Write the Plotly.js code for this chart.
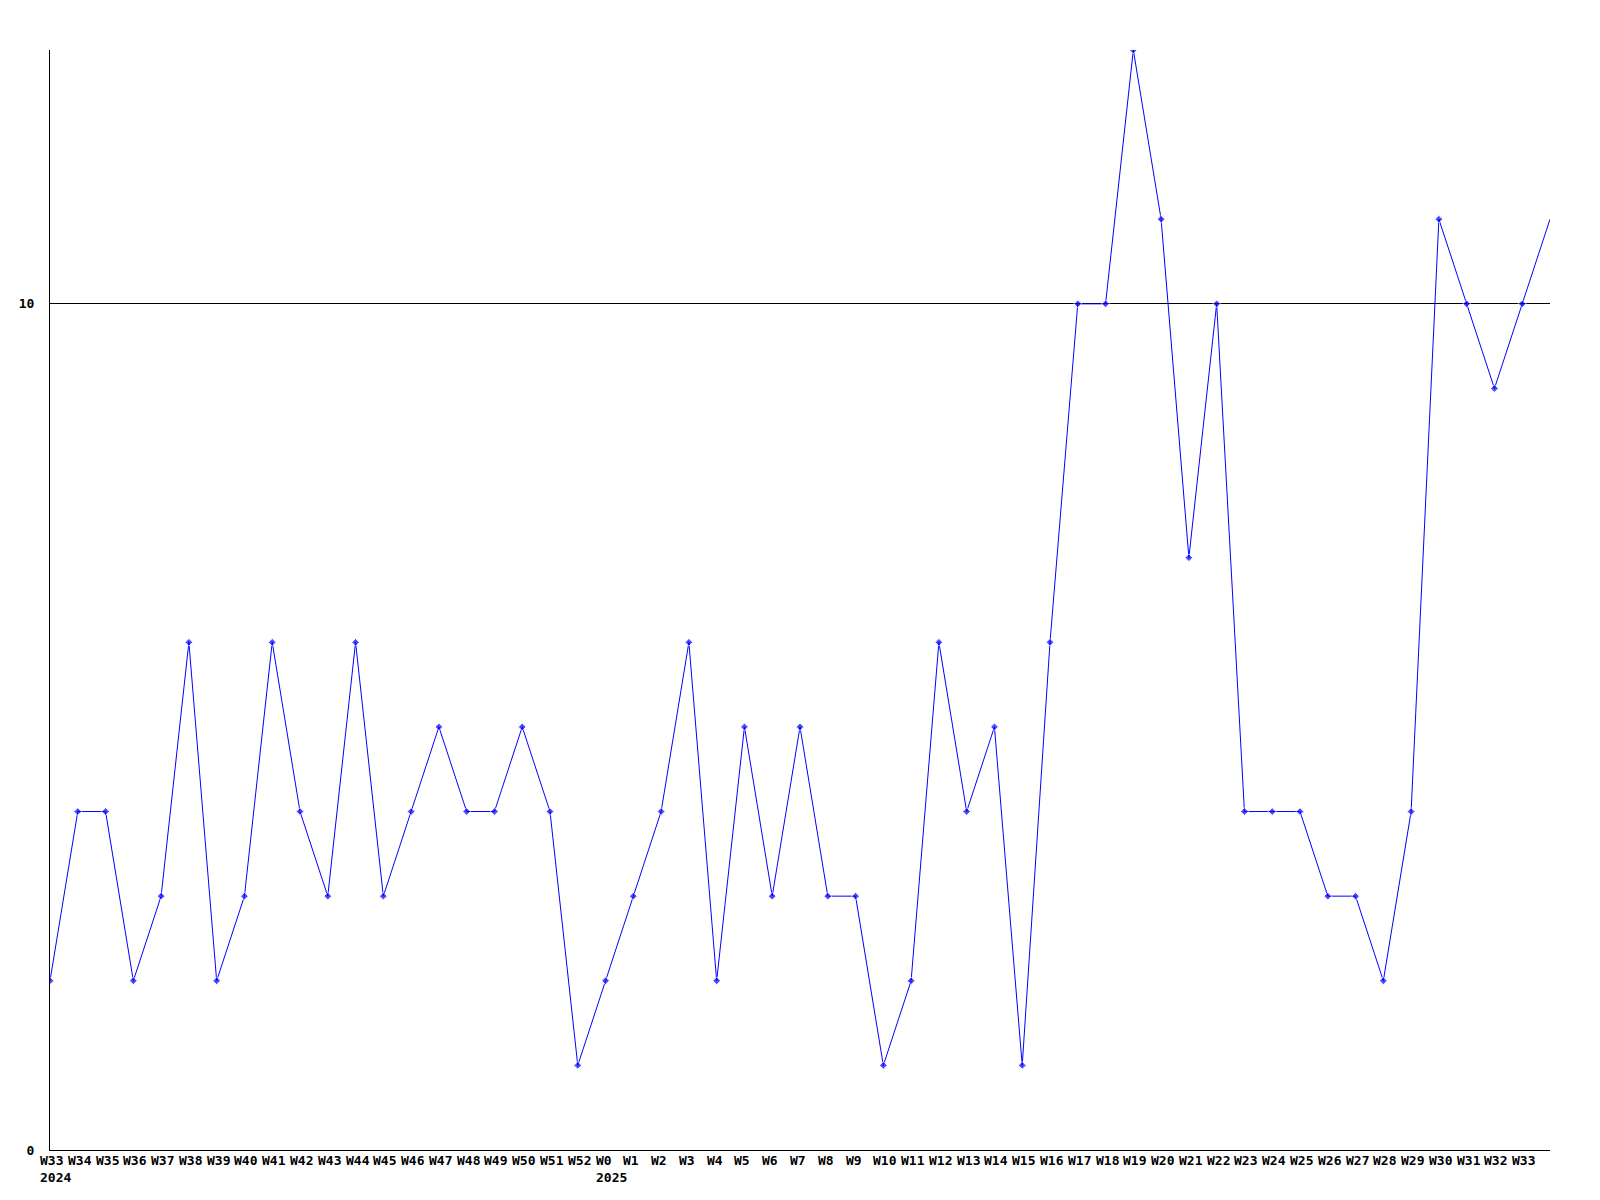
<!DOCTYPE html>
<html>
<head>
<meta charset="utf-8">
<script src="https://cdn.plot.ly/plotly-3.0.1.min.js"></script>
<style>html,body{margin:0;padding:0;background:#fff;}#chart{width:1600px;height:1200px;}</style>
</head>
<body>
<div id="chart"></div>
<script>
const weekLabels = ["W33","W34","W35","W36","W37","W38","W39","W40","W41","W42","W43","W44","W45","W46","W47","W48","W49","W50","W51","W52",
  "W0","W1","W2","W3","W4","W5","W6","W7","W8","W9","W10","W11","W12","W13","W14","W15","W16","W17","W18","W19","W20","W21","W22","W23","W24","W25","W26","W27","W28","W29","W30","W31","W32","W33","W34"];
const yearLabels = {0: "2024", 20: "2025"};
const values = [2,4,4,2,3,6,2,3,6,4,3,6,3,4,5,4,4,5,4,1,
  2,3,4,6,2,5,3,5,3,3,1,2,6,4,5,1,6,10,10,13,11,7,10,4,4,4,3,3,2,4,11,10,9,10,11];
const shownLabelCount = 54;

const xs = values.map((v, i) => i);
const markerSizes = values.map((v, i) => (i < shownLabelCount ? 6 : 0));
const font = {family: "DejaVu Sans Mono, monospace", size: 13, color: "#000", weight: "bold"};

const annotations = [];
for (let i = 0; i < shownLabelCount; i++) {
  const txt = weekLabels[i] + (yearLabels[i] ? "<br>" + yearLabels[i] : "");
  annotations.push({
    x: i, xref: "x", y: 0, yref: "paper",
    text: txt, showarrow: false,
    xanchor: "left", yanchor: "top", align: "left",
    xshift: -12, yshift: -1,
    font: font
  });
}

const trace = {
  x: xs, y: values, type: "scatter", mode: "lines+markers",
  line: {color: "#0000ff", width: 1},
  marker: {color: "#0000ff", symbol: "diamond", size: markerSizes},
  hoverinfo: "none"
};

const layout = {
  width: 1600, height: 1200,
  margin: {l: 50, r: 50, t: 50, b: 50},
  paper_bgcolor: "#fff", plot_bgcolor: "#fff",
  showlegend: false,
  xaxis: {
    range: [0, values.length - 1], showgrid: false, zeroline: false,
    showline: true, linecolor: "#000", linewidth: 1,
    showticklabels: false, ticks: ""
  },
  yaxis: {
    range: [0, 13], tickvals: [0, 10], ticktext: ["0", "10"],
    showgrid: true, gridcolor: "#000", gridwidth: 1, zeroline: false,
    showline: true, linecolor: "#000", linewidth: 1,
    ticks: "", ticklabelstandoff: 12, tickfont: font
  },
  annotations: annotations
};

Plotly.newPlot("chart", [trace], layout, {staticPlot: true, displayModeBar: false});
</script>
</body>
</html>
